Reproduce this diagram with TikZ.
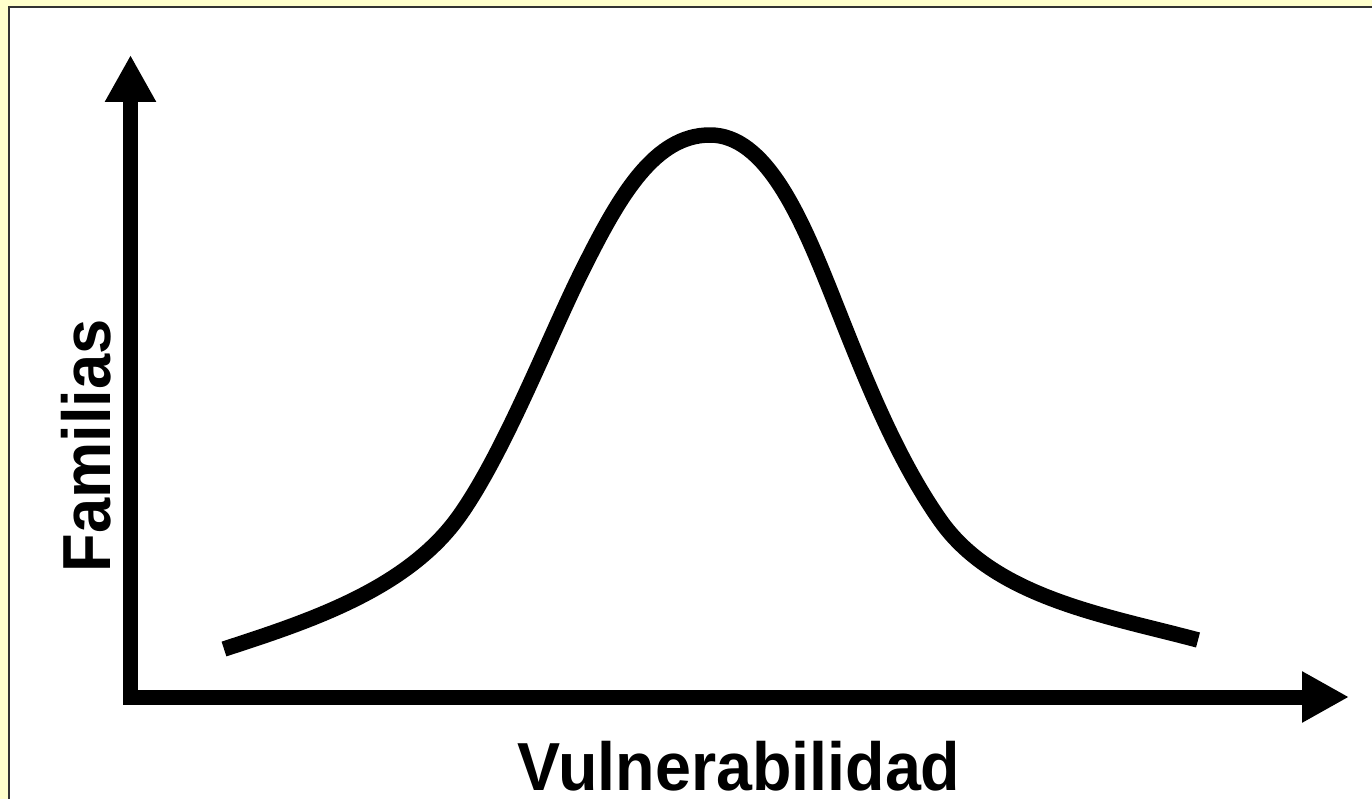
\documentclass[tikz,border=0pt]{standalone}
\usepackage{fontspec}
\setmainfont{Liberation Sans}
\usetikzlibrary{arrows.meta}
\definecolor{bgyellow}{HTML}{FFFFCC}
\definecolor{framegray}{HTML}{333333}
\tikzset{
  axisline/.style={line width=15pt, -{Triangle[width=48pt,length=47pt]}},
  curveline/.style={line width=15.5pt, line cap=butt, line join=round},
  axislabel/.style={font=\fontsize{68}{80}\selectfont\bfseries, inner sep=0pt}
}
\begin{document}
\begin{tikzpicture}[x=1pt,y=-1pt]
\useasboundingbox (0,0) rectangle (1372,799);
\fill[bgyellow] (0,0) rectangle (1372,799);
\draw[framegray, line width=2pt, fill=white] (9,7) rectangle (1390,815);
\coordinate (origin) at (130.5,697);
\coordinate (ytip) at (130.5,55);
\coordinate (xstart) at (123,697);
\coordinate (xtip) at (1349,697);
\draw[axisline] (origin) -- (ytip);
\draw[axisline] (xstart) -- (xtip);
\coordinate (c0) at (224,649);
\coordinate (c1) at (460,515);
\coordinate (c2) at (584,267);
\coordinate (c3) at (710,135);
\coordinate (c4) at (830,290);
\coordinate (c5) at (940,520);
\coordinate (c6) at (1198,640);
\draw[curveline] (c0)
  .. controls (310,621) and (408,589) .. (c1)
  .. controls (506,449.5) and (551,332) .. (c2)
  .. controls (620,195) and (655,135) .. (c3)
  .. controls (765,135) and (800,215) .. (c4)
  .. controls (860,365) and (892.4,452) .. (c5)
  .. controls (994.5,597.8) and (1106,615.4) .. (c6);
\node[axislabel, rotate=90, anchor=base] (ylab) at (110,446) {\scalebox{0.93}[1]{Familias}};
\node[axislabel, anchor=base, text depth=0pt] (xlab) at (739,790) {\scalebox{0.95}[1]{Vulnerabilidad}};
\end{tikzpicture}
\end{document}
